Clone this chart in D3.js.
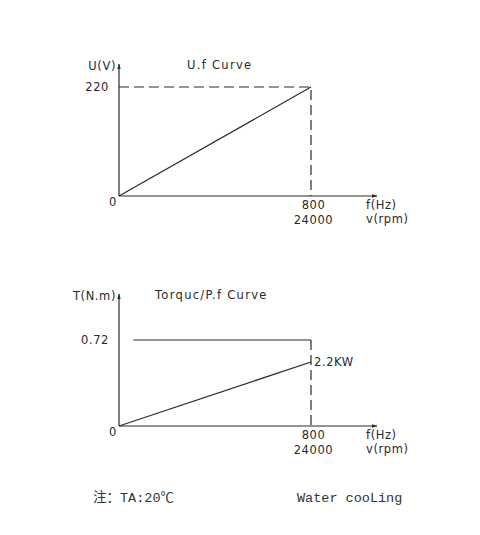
<!DOCTYPE html>
<html>
<head>
<meta charset="utf-8">
<script src="https://cdn.jsdelivr.net/npm/d3@7"></script>
<style>
  body { margin: 0; background: #fff; }
  svg { display: block; }
  .lbl { font-family: "DejaVu Sans", sans-serif; font-size: 11.5px; fill: #2a2a2a; letter-spacing: 0.6px; }
  .ttl { font-family: "DejaVu Sans", sans-serif; font-size: 11.5px; fill: #2a2a2a; letter-spacing: 1.3px; }
  .note { font-family: "Liberation Mono", "Noto Sans CJK SC", monospace; font-size: 13.5px; fill: #333; }
</style>
</head>
<body>
<svg id="chart"></svg>
<script>
// x axis: frequency and speed
var freqTicks = [800];
var speedTicks = ["24000"];

// U.f curve
var voltTicks = [220];
var ufFreq = [0, 800];
var ufVolt = [0, 220];

// Torque / power curve
var torqueTicks = [0.72];
var torqueFreq = [60, 800];
var torqueVal = [0.72, 0.72];
var powerFreq = [0, 800];
var powerKW = [0, 2.2];
var powerLabel = "2.2KW";

var width = 480, height = 535;
var svg = d3.select("#chart").attr("width", width).attr("height", height);
var ink = "#2a2a2a";

svg.append("defs").append("marker")
  .attr("id", "arr")
  .attr("viewBox", "0 0 10 10")
  .attr("refX", 9).attr("refY", 5)
  .attr("markerWidth", 5).attr("markerHeight", 5)
  .attr("orient", "auto")
  .append("path").attr("d", "M0,2L10,5L0,8").attr("fill", ink);

function axesFrame(g, x, y, top, yName, title, titleX) {
  var x0 = x.range()[0], y0 = y.range()[0];
  var xEnd = x.range()[1] + 66;
  // axis lines with arrows
  g.append("line").attr("x1", x0).attr("y1", y0).attr("x2", x0).attr("y2", top)
    .attr("stroke", ink).attr("stroke-width", 1.2).attr("marker-end", "url(#arr)");
  g.append("line").attr("x1", x0).attr("y1", y0).attr("x2", xEnd).attr("y2", y0)
    .attr("stroke", ink).attr("stroke-width", 1.2).attr("marker-end", "url(#arr)");

  // x ticks (two lines)
  var xa = g.append("g").attr("transform", "translate(0," + y0 + ")")
    .call(d3.axisBottom(x).tickValues(freqTicks).tickSize(0));
  xa.select(".domain").remove();
  xa.selectAll("text").attr("class", "lbl").attr("font-size", null).attr("font-family", null)
    .attr("fill", null).attr("y", 13).attr("dy", null).attr("dx", 2);
  xa.selectAll(".tick").append("text")
    .attr("class", "lbl").attr("text-anchor", "middle").attr("y", 28).attr("dx", 2)
    .text(function(d, i) { return speedTicks[i]; });

  // origin label
  g.append("text").attr("class", "lbl").attr("x", x0 - 6).attr("y", y0 + 10)
    .attr("text-anchor", "middle").text("0");

  // axis names
  g.append("text").attr("class", "lbl").attr("x", xEnd - 11).attr("y", y0 + 13).text("f(Hz)");
  g.append("text").attr("class", "lbl").attr("x", xEnd - 11).attr("y", y0 + 27).text("v(rpm)");
  g.append("text").attr("class", "lbl").attr("x", x0 - 3).attr("y", top + 6)
    .attr("text-anchor", "end").text(yName);
  g.append("text").attr("class", "ttl").attr("x", titleX).attr("y", top + 5).text(title);
}

function yTicks(g, x, y, vals) {
  var ya = g.append("g").attr("transform", "translate(" + x.range()[0] + ",0)")
    .call(d3.axisLeft(y).tickValues(vals).tickSize(0).tickPadding(10).tickFormat(d3.format("")));
  ya.select(".domain").remove();
  ya.selectAll("text").attr("class", "lbl").attr("font-size", null).attr("font-family", null).attr("fill", null);
}

var line = d3.line();

// ---- Panel 1: U.f Curve ----
var x1 = d3.scaleLinear().domain([0, 800]).range([119, 311]);
var y1 = d3.scaleLinear().domain([0, 220]).range([196, 87]);
var g1 = svg.append("g");
axesFrame(g1, x1, y1, 64, "U(V)", "U.f Curve", 187);
yTicks(g1, x1, y1, voltTicks);

// dashed guides
g1.append("path")
  .attr("d", line([[x1(0), y1(voltTicks[0])], [x1(freqTicks[0]), y1(voltTicks[0])], [x1(freqTicks[0]), y1(0)]]))
  .attr("fill", "none").attr("stroke", ink).attr("stroke-width", 1.2).attr("stroke-dasharray", "10,5");
g1.append("path")
  .attr("d", line(ufFreq.map(function(f, i) { return [x1(f), y1(ufVolt[i])]; })))
  .attr("fill", "none").attr("stroke", ink).attr("stroke-width", 1.2);

// ---- Panel 2: Torque / Power ----
var x2 = d3.scaleLinear().domain([0, 800]).range([119, 311]);
var y2 = d3.scaleLinear().domain([0, 0.72]).range([426, 340]);
var yP = d3.scaleLinear().domain([0, 2.2]).range([426, 362]);
var g2 = svg.append("g");
axesFrame(g2, x2, y2, 294, "T(N.m)", "Torquc/P.f Curve", 155);
yTicks(g2, x2, y2, torqueTicks);

g2.append("path")
  .attr("d", line(torqueFreq.map(function(f, i) { return [x2(f), y2(torqueVal[i])]; })))
  .attr("fill", "none").attr("stroke", ink).attr("stroke-width", 1.2);
g2.append("path")
  .attr("d", line([[x2(freqTicks[0]), y2(torqueTicks[0])], [x2(freqTicks[0]), y2(0)]]))
  .attr("fill", "none").attr("stroke", ink).attr("stroke-width", 1.2).attr("stroke-dasharray", "10,5");
g2.append("path")
  .attr("d", line(powerFreq.map(function(f, i) { return [x2(f), yP(powerKW[i])]; })))
  .attr("fill", "none").attr("stroke", ink).attr("stroke-width", 1.2);
g2.append("text").attr("class", "lbl")
  .attr("x", x2(powerFreq[1]) + 3).attr("y", yP(powerKW[1]) + 4).text(powerLabel);

// ---- notes ----
svg.append("text").attr("class", "note").attr("x", 93).attr("y", 502).text("注：TA:20℃");
svg.append("text").attr("class", "note").attr("x", 297).attr("y", 502).text("Water cooLing");
</script>
</body>
</html>
